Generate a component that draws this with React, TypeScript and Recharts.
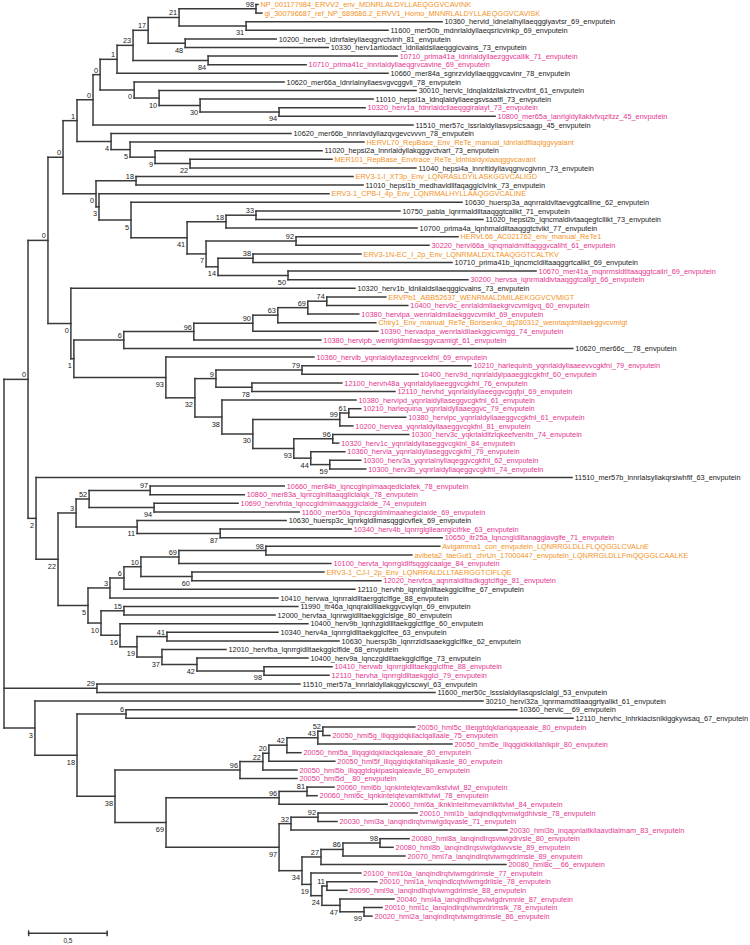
import React from 'react'
import { ScatterChart, Scatter, XAxis, YAxis, ReferenceLine } from 'recharts'

// leaf labels, top to bottom
const LEAF_NAMES = [
  'NP_001177984_ERVV2_env_MDNRLALDYLLAEQGGVCAVINK',
  'gi_300796687_ref_NP_689686.2_ERVV1_Homo_MNNRLALDYLLAEQGGVCAVISK',
  '10360_hervid_ldnelalhyllaeqggiyavtsr_69_envputein',
  '11600_mer50b_mdnrlaldyllaeqsrlcvinkp_69_envputein',
  '10200_herveb_ldnrfaleyllaeqgrvctvinh_81_envputein',
  '10330_herv1artiodact_ldniialdsilaeqggicvains_73_envputein',
  '10710_prima41a_ldnrlaldyllaezggvcallik_71_envputein',
  '10710_prima41c_lnnrlaldyllaeqgrvcavine_69_envputein',
  '10660_mer84a_sgnrzvldyllaeqggvcavinr_78_envputein',
  '10620_mer66a_ldnrlalnyllaesvgvcggvli_78_envputein',
  '30010_hervlc_ldnqlaldzllakztrvcvitnt_61_envputein',
  '11010_hepsi1a_ldnqlaldyllaeegsvsaatfl_73_envputein',
  '10320_herv1a_fdnrlaldcllaeqggiraiayt_73_envputein',
  '10800_mer65a_lanrlgldyllaklvfvqzltzz_45_envputein',
  '11510_mer57c_lssrlaldyllasvpslcsaagp_45_envputein',
  '10620_mer66b_lnnrlavdyllazqvgevcvvvn_78_envputein',
  'HERVL70_RepBase_Env_ReTe_manual_ldnrlaldfllaqlggvyaiant',
  '11020_hepsi2a_lnnrlaldyllakqggvctvart_73_envputein',
  'MER101_RepBase_Envtrace_ReTe_ldnhlaldyxlaaqggvcavant',
  '11040_hepsi4a_lnnrltldyllavqgnvcgivnn_73_envputein',
  'ERV3-1-I_XT3p_Env_LQNRASLDYILASKGGVCALIGD',
  '11010_hepsi1b_medhavldllfaqaggiclvlnk_73_envputein',
  'ERV3-1_CPB-I_4p_Env_LQNRMALHYLLAAQGGVCALINE',
  '10630_huersp3a_aqnrraldvltaevggtcalline_62_envputein',
  '10750_pabla_lqnrmaldiltaaqggtcalikt_71_envputein',
  '11020_hepsi2b_lqncmaldivtaaqegtcllikt_73_envputein',
  '10700_prima4a_lqnhmaldiltaaqggtctvikt_77_envputein',
  'HERVL66_AC021762_env_manual_ReTe1',
  '30220_hervl66a_lqnqmaldmittaqggvcallht_61_envputein',
  'ERV3-1N-EC_I_2p_Env_LQNRMALDXLTAAQGGTCALTKV',
  '10710_prima41b_lqncmcldiltaaqggrtcalikt_69_envputein',
  '10670_mer41a_mqnrmsldtltaaqggtcaiiri_69_envputein',
  '30200_hervsa_lqnrmaldivtaaqggtcallgt_66_envputein',
  '10320_herv1b_ldniialdsilaeqggicvains_73_envputein',
  'ERVPb1_ABB52637_WENRMALDMILAEKGGVCVMIGT',
  '10400_herv9c_enrialdmilaekgrvcvmigvq_60_envputein',
  '10380_hervipa_wenrialdmilaekggvcvmikt_69_envputein',
  'Chiry1_Env_manual_ReTe_Borisenko_dq280312_wenriaqdmilaekggvcvmlgt',
  '10390_hervadpa_wenrlaldilaekggicvmlgg_74_envputein',
  '10380_hervipb_wenrigldmllaesggvcamigt_61_envputein',
  '10620_mer66c__78_envputein',
  '10360_hervib_yqnrlaldyllazegrvcekfnl_69_envputein',
  '10210_harlequinb_yqnrlaldyllaaeevvcgkfnl_79_envputein',
  '10400_herv9d_nqnrlaldylpaaeggicgkfnf_60_envputein',
  '12100_hervh48a_yqnrlaldyllaeeggvcgkfnl_76_envputein',
  '12110_hervhd_yqnrlaldyllaeeggvcgqfpi_69_envputein',
  '10380_hervipd_yqnrlaldyllaseggvcgkfnl_61_envputein',
  '10210_harlequina_yqnrlaldyllaaeggvc_79_envputein',
  '10380_hervipc_yqnrlaldyllaaeggvcgkfnl_61_envputein',
  '10200_hervea_yqnrlaldyllaaeggvcgkfnl_81_envputein',
  '10300_herv3c_yqkrlaldifzlqkeefvenltn_74_envputein',
  '10320_herv1c_yqnrlaldyllaseggvcgklnl_84_envputein',
  '10360_hervia_yqnrlaldyllaseggvcgkfnl_79_envputein',
  '10300_herv3a_yqnrlalnyllaqeggvcgkfnl_62_envputein',
  '10300_herv3b_yqnrlaldyllaqeggvcgkfnl_74_envputein',
  '11510_mer57b_lnnrlalsyllakqrsiwhflf_63_envputein',
  '10660_mer84b_lqnccglnplmaaqediclafek_78_envputein',
  '10860_mer83a_lqnrcglnlltaaqgliclalqk_78_envputein',
  '10690_hervfrda_lqnccgldmlmaaqggiclalde_74_envputein',
  '11600_mer50a_fqnczgldmlmaahegiclalde_69_envputein',
  '10630_huersp3c_lqnrkgldllmasqggicvflek_69_envputein',
  '10340_herv4b_lqnrrglglleanrglcifrke_63_envputein',
  '10650_ltr25a_lqncngldlltanaggiavglfe_71_envputein',
  'Avigamma1_con_envputein_LQNRRGLDLLFLQQGGLCVALnE',
  'avibeta2_taeGut1_chrUn_17000447_envputein_LQNRRGLDLLFmQQGGLCAALKE',
  '10100_hervta_lqnrrgldllfsqgglcaalge_84_envputein',
  'ERV3-1_CJ-I_2p_Env_LQNRRALDLLTAERGGTCIFLQE',
  '12020_hervfca_aqnrraldlltadkggtclflge_81_envputein',
  '12110_hervhb_lqnrlglnlltaekggiclifne_67_envputein',
  '10410_hervwa_lqnrraldlltaerggtclflge_88_envputein',
  '11990_ltr46a_lqnqraldlliaekggvcvylqn_69_envputein',
  '12000_hervfaa_lqnrwgldlltaekgglclslge_80_envputein',
  '10400_herv9b_lqnhzgldllltaekgglctflge_60_envputein',
  '10340_herv4a_lqnrrgldlltaekgglclfee_63_envputein',
  '10630_huersp3b_lqnrrzldlsaaekgglclflke_62_envputein',
  '12010_hervfba_lqnrrgldlltaekgglclflde_68_envputein',
  '10400_herv9a_lqnczgldlltaekgglclflge_73_envputein',
  '10410_hervwb_lqnrrgldlltaekgglclfne_88_envputein',
  '12110_hervha_lqnrrgldlltaekgglci_79_envputein',
  '11510_mer57a_lnnrlaldyllakqgylcscwyl_63_envputein',
  '11600_mer50c_lssslaldyllasqpslclalgl_53_envputein',
  '30210_hervl32a_lqnrmamdtllaaqgrtyalikt_61_envputein',
  '10360_hervic__69_envputein',
  '12110_hervhc_lnhrkiacisnlkiggkywsaq_67_envputein',
  '20050_hml5c_llleqgtdqkilarlqapeaale_80_envputein',
  '20050_hml5g_lllqqgidqkilaclqallaale_75_envputein',
  '20050_hml5e_lllqqgidkkiilahlkplr_80_envputein',
  '20050_hml5a_lllqqgidqkilaclqaleaale_80_envputein',
  '20050_hml5f_lllqqgidqkilahlqalkasle_80_envputein',
  '20050_hml5b_lllqqgtdqkipaslqaleavle_80_envputein',
  '20050_hml5d__80_envputein',
  '20060_hml6b_lqnkintelqtevamlkstvlwl_82_envputein',
  '20060_hml6c_lqnkintelqtevamlkttvlwl_78_envputein',
  '20060_hml6a_lknklnteihmevamlkttvlwl_84_envputein',
  '20010_hml1b_ladqindlqqtvmwlgdhivsle_78_envputein',
  '20030_hml3a_lanqindlrqtvmwlgdqvasle_71_envputein',
  '20030_hml3b_inqapnlaitkilaavdialmam_83_envputein',
  '20080_hml8a_lanqindlrqsviwlgdrvsle_80_envputein',
  '20080_hml8b_lanqindlrqsviwlgdwvvsle_89_envputein',
  '20070_hml7a_lanqindlrqtviwmgdrimsle_89_envputein',
  '20080_hml8c__66_envputein',
  '20100_hml10a_lanqindlrqtviwmgdrimsle_77_envputein',
  '20010_hml1a_ivnqindlcqtviwmgdriisle_78_envputein',
  '20090_hml9a_lanqindlhqtviwmgdrimsle_88_envputein',
  '20040_hml4a_lanqindlhqsviwlgdrvmnle_87_envputein',
  '20010_hml1c_lanqindlrqtviwmrdrlmslk_78_envputein',
  '20020_hml2a_lanqindlrqtviwmgdrimsle_86_envputein',
]

// O = reference sequence (orange), P = highlighted (pink), K = plain
const LEAF_GROUPS = (
  'OOKKKKPPKK' + 'KKPPKKOKOK' + 'OKOKKKKOPO' + 'KPPKOPPOPP' + 'KPPPPPPPPP' +
  'PPPPPKPPPP' + 'KPPOOPOPKK' + 'KKKKKKKPPK' + 'KKKKPPPPPP' + 'PPPPPPPPPP' + 'PPPPPPP'
).split('')

const GROUP_COLORS: Record<string, string> = { O: '#f39325', P: '#e5358f', K: '#1a1a1a' }

// tree in newick form: leaf = index into LEAF_NAMES, internal label = bootstrap, :branch length
const ERVV = '(((0:0.013,1:0.038)98:0.490,(2:1.248,3:0.904)31:0.427)21:0.197,(4:0.580,5:0.911)48:0.236)17:0.096'
const HERV1 = `((${ERVV},(6:1.204,7:0.624)84:0.478)23:0.102,8:1.726)1:0.108`
const MER66 = '(9:0.955,(10:1.637,(11:1.102,(12:0.548,13:1.376)94:0.503)30:0.261)10:0.159)0:0.217'
const HEPSI = '(15:1.146,(16:1.490,(17:1.064,(18:0.904,19:1.439)22:0.223)9:0.159)5:0.121)4:0.217'
const UPPER_A = `(((${HERV1},${MER66})0:0.045,14:2.038)0:0.102,${HEPSI})1:0.089`
const ERV3 = '((24:0.917,25:1.446)33:0.191,26:1.217)18:0.248'
const MER41 = '((27:1.032,28:0.847)92:0.573,((29:0.688,30:1.268)38:0.223,(31:1.580,32:1.146)50:0.446)14:0.076)7:0.121'
const UPPER_B = `((20:1.382,21:1.446)18:0.255,(22:1.465,(23:2.108,(${ERV3},${MER41})41:0.357)5:0.204)3:0.019)0:0.210`
const HERV9 = '((((((34:0.376,35:0.516)74:0.121,36:0.325)69:0.191,37:0.624)63:0.159,38:0.796)90:0.376,39:0.809)96:0.446,40:2.860)6:0.318'
const HERVH_TOP = '((42:1.076,43:0.739)79:0.548,(44:0.573,45:0.911)78:0.229)9:0.134'
const HERVH_LOW = '(((47:0.076,48:0.363)61:0.057,49:0.083)99:0.554,((50:0.484,51:0.038)96:0.248,(52:0.217,(53:0.197,54:0.229)59:0.121)44:0.108)93:0.261)30:0.197'
const HERVH = `(41:0.943,(${HERVH_TOP},(46:0.854,${HERVH_LOW})38:0.172)32:0.185)93:0.586`
const UPPER_C = `(33:1.809,(${HERV9},${HERVH})1:0.019)0:0.146`
const UPPER = `((${UPPER_A},${UPPER_B})0:0.096,${UPPER_C})0:0.127`
const MER84 = '(((56:0.854,57:0.599)97:0.389,(58:0.535,59:0.924)94:0.414)52:0.083,(60:0.949,(61:0.834,62:1.414)87:0.529)11:0.389)3:0.115'
const AVI = '(((((63:1.108,64:0.930)98:0.554,65:0.968)69:0.242,(66:0.841,67:1.204)60:0.325)10:0.108,68:1.471)6:0.089,69:1.070)3:0.140'
const HERVW = '((70:1.108,71:0.962)15:0.146,(72:1.197,((73:0.707,74:1.096)41:0.191,(75:0.408,(76:0.707,(77:0.433,78:0.414)98:0.427)42:0.223)37:0.159)19:0.108)16:0.121)10:0.083'
const MIDDLE = `(55:3.414,(${MER84},(${AVI},${HERVW})5:0.191)22:0.140)2:0.051`
const CLADE_ONE = `(${UPPER},${MIDDLE})0:0.153`
const MER57 = '(79:1.293,80:2.153)29:0.592'
const HML5 = '((((((84:0.586,85:0.045)52:0.032,86:0.854)43:0.197,87:0.089)42:0.115,88:0.420)20:0.038,89:0.217)22:0.146,90:0.363)96:0.796'
const HML6 = '((91:0.172,92:0.064)81:0.178,93:0.688)96:0.720'
const HML_REST = '(((94:0.631,95:0.121)92:0.172,96:1.376)32:0.076,((((97:0.185,98:0.083)98:0.236,99:0.395)86:0.140,100:1.178)27:0.121,(101:0.318,((102:0.318,103:0.127)11:0.032,(104:0.344,(105:0.115,106:0.051)99:0.153)47:0.115)24:0.070)19:0.057)34:0.146)97:0.720'
const CLADE_THREE = `(81:2.854,((82:2.490,83:2.847)6:0.312,(${HML5},(${HML6},${HML_REST})69:0.325)38:0.242)18:0.268)3:0.197`
const TREE = `(${CLADE_ONE},${MER57},${CLADE_THREE});`

const SCALE_LENGTH = 0.5
const SCALE_LABEL = '0,5'

// chart frame (units: substitutions on x, leaf rows on y)
const W = 750
const H = 945
const X_MIN = -0.0255
const X_MAX = X_MIN + W / 157
const Y_MIN = -0.523
const Y_MAX = Y_MIN + H / 8.6
const SCALE_X0 = 0.157
const FONT = 'Liberation Sans, Arial, Helvetica, sans-serif'
const FONT_SIZE = 7.35

type TNode = { leaf?: number; boot?: string; len: number; children: TNode[]; depth: number; y: number }

function parseNewick(s: string): TNode {
  let i = 0
  const token = () => {
    let t = ''
    while (i < s.length && !'(),:;'.includes(s[i])) t += s[i++]
    return t
  }
  const node = (): TNode => {
    const n: TNode = { len: 0, children: [], depth: 0, y: 0 }
    if (s[i] === '(') {
      i++
      n.children.push(node())
      while (s[i] === ',') {
        i++
        n.children.push(node())
      }
      i++
      const t = token()
      if (t) n.boot = t
    } else {
      n.leaf = Number(token())
    }
    if (s[i] === ':') {
      i++
      n.len = parseFloat(token())
    }
    return n
  }
  return node()
}

const root = parseNewick(TREE)
let row = 0
function layout(n: TNode, parentDepth: number) {
  n.depth = parentDepth + n.len
  if (!n.children.length) {
    n.y = row++
    return
  }
  n.children.forEach((c) => layout(c, n.depth))
  n.y = (n.children[0].y + n.children[n.children.length - 1].y) / 2
}
layout(root, 0)

type Pt = { x: number; y: number }
const segments: [Pt, Pt][] = []
const leafPoints: { x: number; y: number; name: string; group: string }[] = []
const bootPoints: { x: number; y: number; label: string; below: boolean }[] = []

function collect(n: TNode, parent: TNode | null, isLast: boolean) {
  if (parent) segments.push([{ x: parent.depth, y: n.y }, { x: n.depth, y: n.y }])
  if (n.children.length) {
    const last = n.children[n.children.length - 1]
    segments.push([{ x: n.depth, y: n.children[0].y }, { x: n.depth, y: last.y }])
    if (parent && n.boot) bootPoints.push({ x: n.depth, y: n.y, label: n.boot, below: isLast })
    n.children.forEach((c, i) => collect(c, n, i === n.children.length - 1))
  } else {
    const idx = n.leaf as number
    leafPoints.push({ x: n.depth, y: n.y, name: LEAF_NAMES[idx], group: LEAF_GROUPS[idx] })
  }
}
collect(root, null, false)

const SCALE_Y = row + 1
const scaleSegments: [Pt, Pt][] = [
  [{ x: SCALE_X0, y: SCALE_Y }, { x: SCALE_X0 + SCALE_LENGTH, y: SCALE_Y }],
  [{ x: SCALE_X0, y: SCALE_Y - 0.25 }, { x: SCALE_X0, y: SCALE_Y + 0.25 }],
  [{ x: SCALE_X0 + SCALE_LENGTH, y: SCALE_Y - 0.25 }, { x: SCALE_X0 + SCALE_LENGTH, y: SCALE_Y + 0.25 }],
]
const scaleLabel = [{ x: SCALE_X0 + SCALE_LENGTH / 2, y: SCALE_Y, label: SCALE_LABEL }]

// opacity just under 1 keeps the small text on grayscale antialiasing
const TEXT_OPACITY = 0.995

const LeafLabel = (p: any) => {
  const d = p.payload ?? p
  return (
    <text x={p.cx + 2.5} y={p.cy} dy="0.36em" fontSize={FONT_SIZE} fontFamily={FONT} fill={GROUP_COLORS[d.group]} opacity={TEXT_OPACITY}>
      {d.name}
    </text>
  )
}

const BootLabel = (p: any) => {
  const d = p.payload ?? p
  return (
    <text x={p.cx - 2} y={d.below ? p.cy + 9.5 : p.cy - 2} textAnchor="end" fontSize={FONT_SIZE} fontFamily={FONT} fill="#1a1a1a" opacity={TEXT_OPACITY}>
      {d.label}
    </text>
  )
}

const ScaleText = (p: any) => {
  const d = p.payload ?? p
  return (
    <text x={p.cx} y={p.cy + 10} textAnchor="middle" fontSize={6.5} fontFamily={FONT} fill="#1a1a1a" opacity={TEXT_OPACITY}>
      {d.label}
    </text>
  )
}

export default function App() {
  return (
    <div style={{ position: 'absolute', left: 0, top: 0, width: W, height: H, background: '#fff' }}>
      <ScatterChart width={W} height={H} margin={{ top: 0, right: 0, bottom: 0, left: 0 }}>
        <XAxis type="number" dataKey="x" domain={[X_MIN, X_MAX]} hide allowDataOverflow />
        <YAxis type="number" dataKey="y" domain={[Y_MIN, Y_MAX]} reversed hide allowDataOverflow />
        {[...segments, ...scaleSegments].map((s, i) => (
          <ReferenceLine key={i} segment={s} stroke="#3a3a3a" strokeWidth={1.5} strokeLinecap="square" ifOverflow="visible" />
        ))}
        <Scatter data={leafPoints} shape={LeafLabel} isAnimationActive={false} />
        <Scatter data={bootPoints} shape={BootLabel} isAnimationActive={false} />
        <Scatter data={scaleLabel} shape={ScaleText} isAnimationActive={false} />
      </ScatterChart>
    </div>
  )
}
